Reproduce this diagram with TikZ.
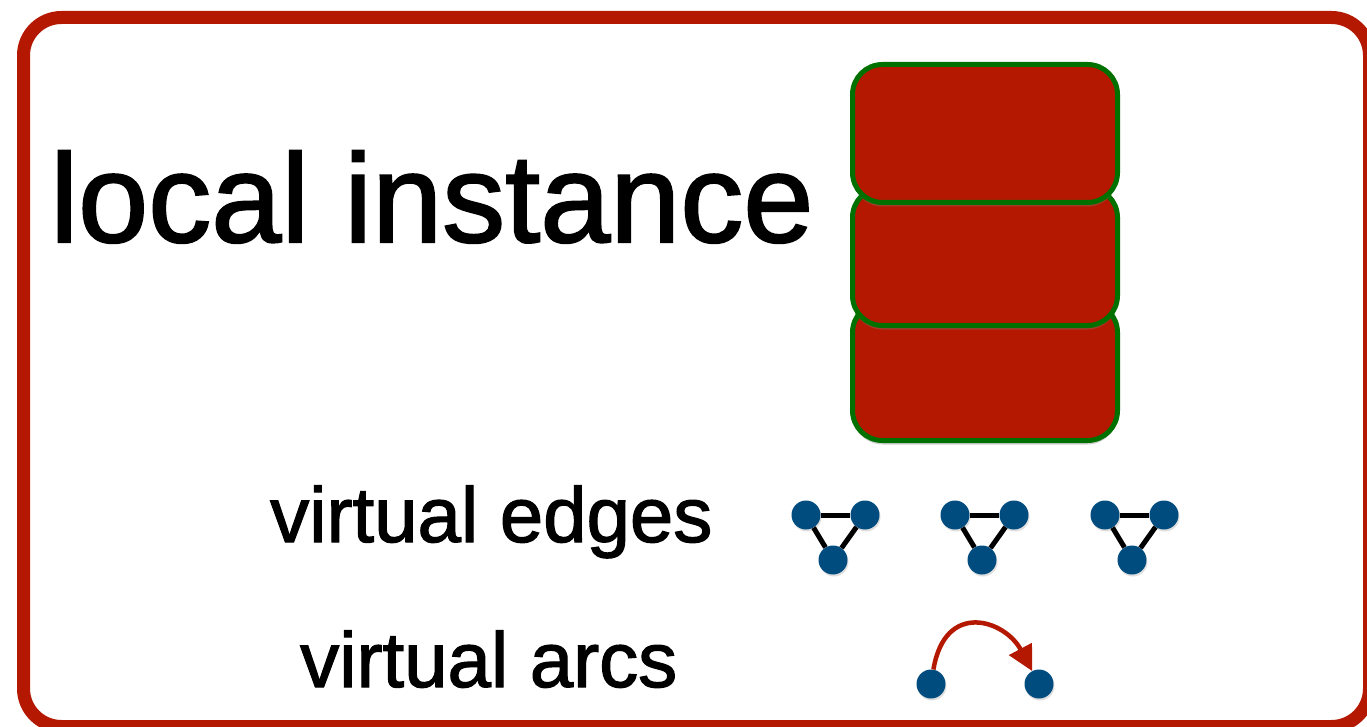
\documentclass[tikz,border=0pt]{standalone}
\usepackage{fontspec}
\setmainfont{Liberation Sans}
\newfontfamily\heavy[FakeBold=1.6]{Liberation Sans}
\usetikzlibrary{arrows.meta,shadows}
\definecolor{fr}{RGB}{180,24,0}
\definecolor{gr}{RGB}{0,112,0}
\definecolor{bl}{RGB}{0,76,127}
\tikzset{
  frame/.style={draw=fr, line width=13pt, rounded corners=38pt},
  layer/.style={draw=gr, fill=fr, line width=5pt, rounded corners=30pt,
    minimum width=265pt, minimum height=138pt, inner sep=0pt,
    drop shadow={opacity=0.35, shadow xshift=0pt, shadow yshift=-4pt}},
  dot/.style={circle, fill=bl, inner sep=0pt, minimum size=29pt,
    drop shadow={opacity=0.25, shadow xshift=1pt, shadow yshift=-2pt}},
  edge/.style={draw=black, line width=5pt},
  arc/.style={draw=fr, line width=4.5pt, -{Triangle[length=25pt,width=25pt]}},
  lbl/.style={anchor=base west, inner sep=0pt, text=black}
}
\begin{document}
\begin{tikzpicture}[x=1pt,y=-1pt]
\useasboundingbox (0,0) rectangle (1367,727);
\clip (0,0) rectangle (1367,727);
\fill[white] (0,0) rectangle (1367,727);
\draw[frame] (23.5,17.5) rectangle (1369.5,726.5);

% stacked layers
\node[layer] (l3) at (985,371.5) {};
\node[layer] (l2) at (985,256.5) {};
\node[layer] (l1) at (985,133.5) {};

% texts
\node[lbl, font=\heavy\fontsize{126}{130}\selectfont] (t1) at (50,242) {local instance};
\node[lbl, font=\heavy\fontsize{78}{80}\selectfont] (t2) at (270,542) {virtual edges};
\node[lbl, font=\heavy\fontsize{78}{80}\selectfont] (t3) at (300,687) {virtual arcs};

% virtual edges triangles
\foreach \i/\x in {1/806, 2/955, 3/1105} {
  \node[dot] (a\i) at (\x,515) {};
  \node[dot] (b\i) at (\x+59,515) {};
  \node[dot] (c\i) at (\x+27,560) {};
  \draw[edge] (a\i) -- (b\i);
  \draw[edge] (a\i) -- (c\i);
  \draw[edge] (b\i) -- (c\i);
}

% virtual arc
\node[dot] (u) at (931,684) {};
\node[dot] (v) at (1039,684) {};
\draw[arc] (u) .. controls (945,600) and (1005,620) .. (v);
\end{tikzpicture}
\end{document}
